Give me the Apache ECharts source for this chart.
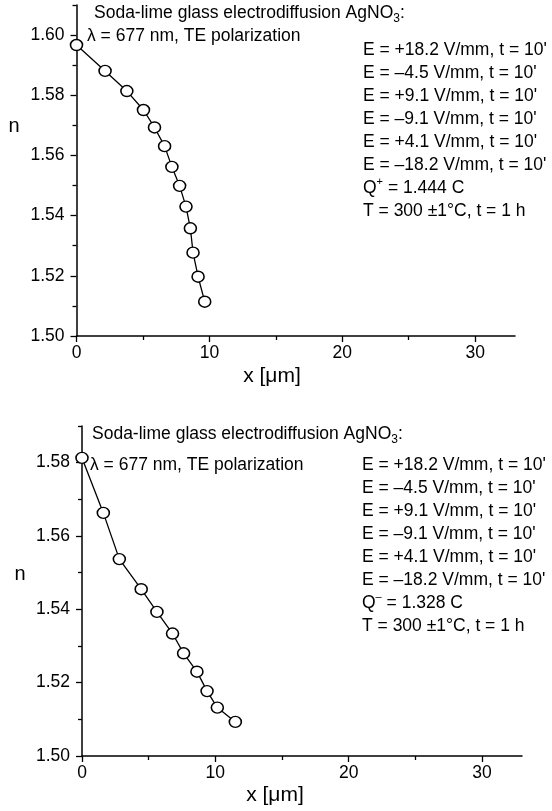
<!DOCTYPE html>
<html>
<head>
<meta charset="utf-8">
<script src="https://cdn.jsdelivr.net/npm/echarts@6/dist/echarts.min.js"></script>
<style>
html,body{margin:0;padding:0;background:#fff;}
#c{width:552px;height:811px;}
</style>
</head>
<body>
<div id="c"></div>
<script>
// ---- data ----
const topX = [0, 2.15, 3.79, 5.04, 5.87, 6.63, 7.18, 7.76, 8.24, 8.57, 8.77, 9.15, 9.65];
const topN = [1.5967, 1.5881, 1.5814, 1.5751, 1.5693, 1.5631, 1.5562, 1.5499, 1.5430, 1.5358, 1.5277, 1.5197, 1.5114];
const botX = [0, 1.60, 2.80, 4.44, 5.62, 6.79, 7.62, 8.62, 9.38, 10.15, 11.5];
const botN = [1.5813, 1.5663, 1.5537, 1.5455, 1.5393, 1.5334, 1.5280, 1.5230, 1.5177, 1.5132, 1.5093];

const xMajorTicks = [0, 10, 20, 30];
const xMinorTicks = [5, 15, 25];
const yMajorTop = [1.50, 1.52, 1.54, 1.56, 1.58, 1.60];
const yMinorTop = [1.51, 1.53, 1.55, 1.57, 1.59, 1.61];
const yMajorBot = [1.50, 1.52, 1.54, 1.56, 1.58];
const yMinorBot = [1.51, 1.53, 1.55, 1.57, 1.59];

const condLines = [
  "E = +18.2 V/mm, t = 10'",
  "E = \u20134.5 V/mm, t = 10'",
  "E = +9.1 V/mm, t = 10'",
  "E = \u20139.1 V/mm, t = 10'",
  "E = +4.1 V/mm, t = 10'",
  "E = \u201318.2 V/mm, t = 10'"
];

const FONT = '"Liberation Sans", Arial, sans-serif';
const FS = 17.5;
const BLACK = '#000';

function pairs(xs, ys){ return xs.map((x,i)=>[x, ys[i]]); }

function xAxes(grid){
  return [
    {gridIndex:grid, type:'value', position:'bottom', min:0, max:33, interval:10,
     axisLine:{show:true, onZero:false, lineStyle:{color:BLACK, width:1.5}},
     axisTick:{show:true, customValues:xMajorTicks, length:6, lineStyle:{color:BLACK, width:1.3}},
     axisLabel:{show:true, customValues:xMajorTicks, margin:8, fontSize:FS, color:BLACK, fontFamily:FONT,
                formatter:v=>String(v)},
     splitLine:{show:false}},
    {gridIndex:grid, type:'value', position:'bottom', min:0, max:33, interval:5,
     axisLine:{show:false, onZero:false},
     axisTick:{show:true, customValues:xMinorTicks, length:4, lineStyle:{color:BLACK, width:1.3}},
     axisLabel:{show:false}, splitLine:{show:false}}
  ];
}
function yAxes(grid, max, major, minor){
  return [
    {gridIndex:grid, type:'value', position:'left', min:1.50, max:max, interval:0.02,
     axisLine:{show:true, onZero:false, lineStyle:{color:BLACK, width:1.5}},
     axisTick:{show:true, customValues:major, length:6, lineStyle:{color:BLACK, width:1.3}},
     axisLabel:{show:true, customValues:major, margin:12, fontSize:FS, color:BLACK, fontFamily:FONT,
                formatter:v=>v.toFixed(2)},
     splitLine:{show:false}},
    {gridIndex:grid, type:'value', position:'left', min:1.50, max:max, interval:0.01,
     axisLine:{show:false, onZero:false},
     axisTick:{show:true, customValues:minor, length:4, lineStyle:{color:BLACK, width:1.3}},
     axisLabel:{show:false}, splitLine:{show:false}}
  ];
}

function seriesFor(xi, yi, data){
  return {type:'line', xAxisIndex:xi, yAxisIndex:yi, data:data, clip:false,
    symbol:'circle', symbolSize:[12,11], showSymbol:true,
    lineStyle:{color:BLACK, width:1.3},
    itemStyle:{color:'#fff', borderColor:BLACK, borderWidth:1.5},
    emphasis:{disabled:true}, animation:false};
}

const richBase = {
  t:{fontSize:FS, fontFamily:FONT, color:BLACK, lineHeight:23},
  sup:{fontSize:11, fontFamily:FONT, color:BLACK, lineHeight:15, verticalAlign:'top'},
  sub:{fontSize:12, fontFamily:FONT, color:BLACK, lineHeight:14, verticalAlign:'bottom'}
};

function block(x, y, qSign, qVal){
  const lines = condLines.map(s=>'{t|'+s+'}');
  lines.push('{t|Q}{sup|'+qSign+'}{t| = '+qVal+'}');
  lines.push('{t|T = 300 \u00b11\u00b0C, t = 1 h}');
  return {type:'text', left:x, top:y, style:{text:lines.join('\n'), rich:richBase, fill:BLACK}};
}
function header(x1, y1, x2, y2){
  return [
    {type:'text', left:x1, top:y1, style:{text:'{t|Soda-lime glass electrodiffusion AgNO}{sub|3}{t|:}', rich:richBase}},
    {type:'text', left:x2, top:y2, style:{text:'\u03bb = 677 nm, TE polarization', font:FS+'px '+FONT, fill:BLACK}}
  ];
}
function label(text, cx, cy, fs){
  return {type:'text', x:cx, y:cy, style:{text:text, font:fs+'px '+FONT, fill:BLACK, align:'center', verticalAlign:'middle'}};
}

const chart = echarts.init(document.getElementById('c'), null, {renderer:'canvas'});
chart.setOption({
  animation:false,
  backgroundColor:'#fff',
  grid:[
    {left:76.5, top:5, width:438.5, height:331},
    {left:82, top:426, width:440, height:330}
  ],
  xAxis: xAxes(0).concat(xAxes(1)),
  yAxis: yAxes(0, 1.61, yMajorTop, yMinorTop).concat(yAxes(1, 1.59, yMajorBot, yMinorBot)),
  series:[
    seriesFor(0, 0, pairs(topX, topN)),
    seriesFor(2, 2, pairs(botX, botN))
  ],
  graphic: [].concat(
    header(94, 4, 87, 27),
    header(92, 425, 90, 456),
    [block(363, 41, '+', '1.444 C'), block(362, 456, '\u2013', '1.328 C')],
    [label('n', 14, 126, 20), label('n', 20, 574, 20),
     label('x [\u03bcm]', 272, 376, 21), label('x [\u03bcm]', 275, 795, 21)]
  )
});
</script>
</body>
</html>
